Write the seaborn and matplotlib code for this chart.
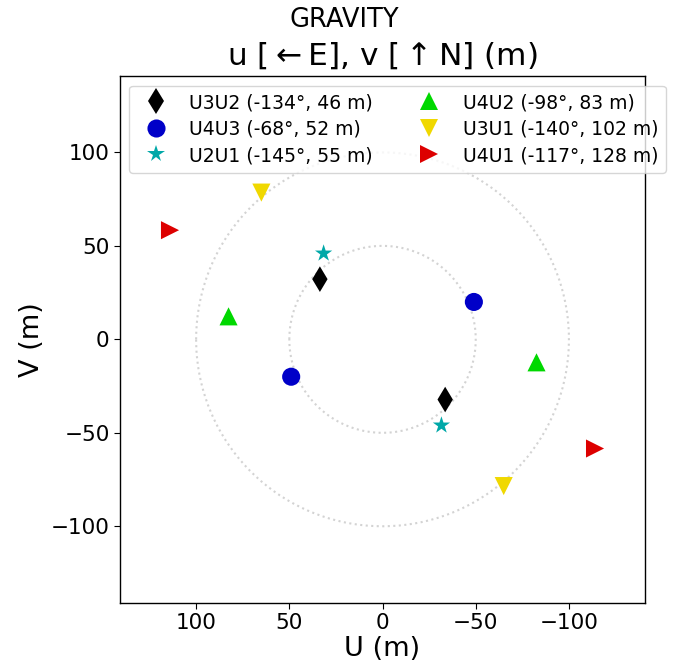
import numpy as np
import pandas as pd
import matplotlib
matplotlib.use("Agg")
import matplotlib.pyplot as plt
import seaborn as sns

# baselines with (position angle, length) as shown in the legend
labels = ["U3U2 (-134°, 46 m)", "U4U3 (-68°, 52 m)", "U2U1 (-145°, 55 m)",
          "U4U2 (-98°, 83 m)", "U3U1 (-140°, 102 m)", "U4U1 (-117°, 128 m)"]
colors = ["#000000", "#0000c8", "#00a8a8", "#00d800", "#f0d800", "#dd0000"]
markers = ["d", "o", "*", "^", "v", ">"]

# u, v of each baseline and of its symmetric point (m)
u_pos = [33.6, -49.0, 31.6, 82.6, 65.0, 114.0]
v_pos = [32.2, 20.0, 46.0, 12.3, 78.5, 58.4]
u_neg = [-33.6, 49.0, -31.6, -82.6, -65.0, -114.0]
v_neg = [-32.2, -20.0, -46.0, -12.3, -78.5, -58.4]

df = pd.DataFrame({
    "baseline": labels + labels,
    "u": u_pos + u_neg,
    "v": v_pos + v_neg,
})

sns.set_style("white")
plt.rcParams["font.family"] = ["DejaVu Sans"]
plt.rcParams.update({"text.color": "black", "axes.labelcolor": "black",
                     "xtick.color": "black", "ytick.color": "black"})

fig = plt.figure(figsize=(6.88, 6.68), dpi=100)
ax = fig.add_axes([0.1745, 0.098, 0.763, 0.788])

# reference circles at 50 m and 100 m
t = np.linspace(0, 2 * np.pi, 300)
for r in [50, 100]:
    ax.plot(r * np.cos(t), r * np.sin(t), ls=":", color="lightgray", lw=1.5, zorder=1)

sns.scatterplot(data=df, x="u", y="v", hue="baseline", style="baseline",
                palette=dict(zip(labels, colors)), markers=dict(zip(labels, markers)),
                hue_order=labels, style_order=labels,
                s=170, linewidth=0, ax=ax, zorder=3)

lim = 1.1 * 128
ax.set_xlim(lim, -lim)
ax.set_ylim(-lim, lim)
ax.set_xticks([100, 50, 0, -50, -100])
ax.set_yticks([-100, -50, 0, 50, 100])
ax.tick_params(labelsize=15.5, direction="out", length=4, left=True, bottom=True)
for s in ax.spines.values():
    s.set_color("black")
    s.set_linewidth(1)
ax.set_xlabel("U (m)", fontsize=19.5, labelpad=2)
ax.set_ylabel("V (m)", fontsize=19.5)
ax.set_title("u [$\\leftarrow$E], v [$\\uparrow$N] (m)", fontsize=22.5, pad=8)
fig.suptitle("GRAVITY", fontsize=18.5, y=0.99)

ax.legend(loc="upper left", ncol=2, fontsize=13.5, borderpad=0.4,
          labelspacing=0.4, frameon=True)

plt.savefig("out.png", dpi=100)
plt.close()
